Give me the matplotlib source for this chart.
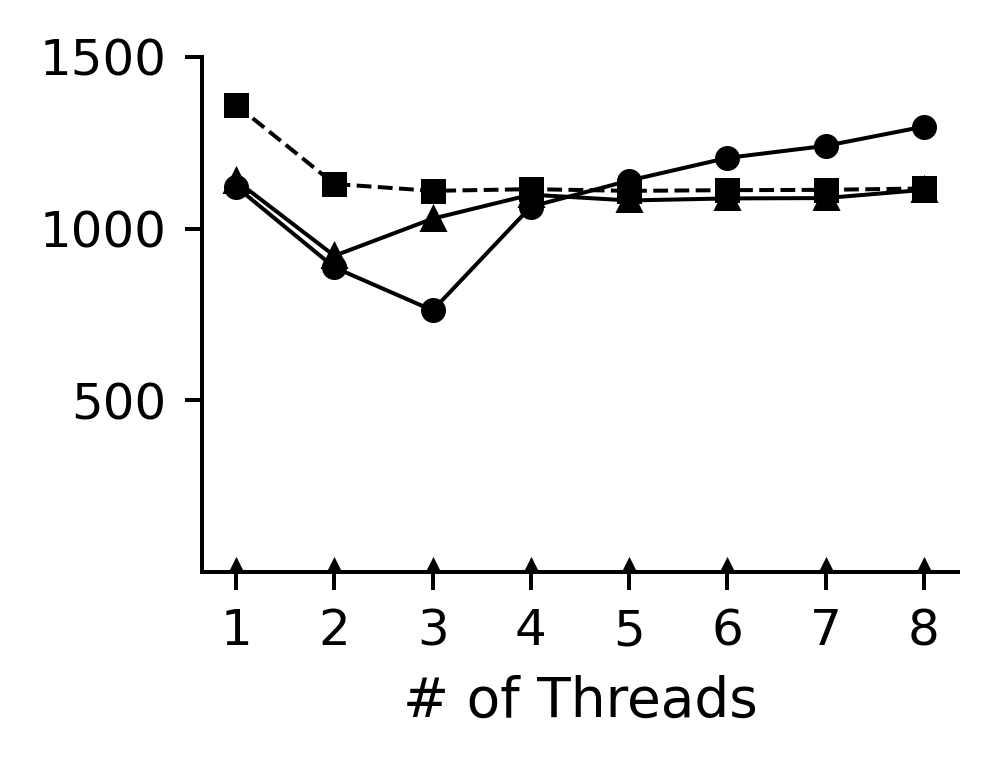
import matplotlib
matplotlib.use("Agg")
import matplotlib.pyplot as plt

threads = [1, 2, 3, 4, 5, 6, 7, 8]
circle_vals = [1122, 887, 762, 1064, 1140, 1206, 1241, 1297]
triangle_vals = [1140, 921, 1029, 1099, 1082, 1088, 1089, 1113]
square_vals = [1360, 1130, 1110, 1115, 1110, 1112, 1113, 1117]
zero_vals = [0, 0, 0, 0, 0, 0, 0, 0]
yticks = [500, 1000, 1500]

DPI = 360
fig = plt.figure(figsize=(994 / DPI, 769 / DPI), dpi=DPI)
ax = fig.add_axes([0.203, 0.256, 0.761, 0.670])

ax.plot(threads, zero_vals, color="black", lw=0.8, marker="^", ms=4)
ax.plot(threads, circle_vals, color="black", lw=0.8, marker="o", ms=4)
ax.plot(threads, triangle_vals, color="black", lw=0.8, marker="^", ms=4)
ax.plot(threads, square_vals, color="black", lw=0.8, ls="--", marker="s", ms=4)

ax.set_ylim(0, 1500)
ax.set_yticks(yticks)
ax.set_xticks(threads)
ax.set_xlabel("# of Threads", fontsize=11)
ax.tick_params(labelsize=10)
ax.spines["top"].set_visible(False)
ax.spines["right"].set_visible(False)

fig.savefig("out.png", dpi=DPI)
